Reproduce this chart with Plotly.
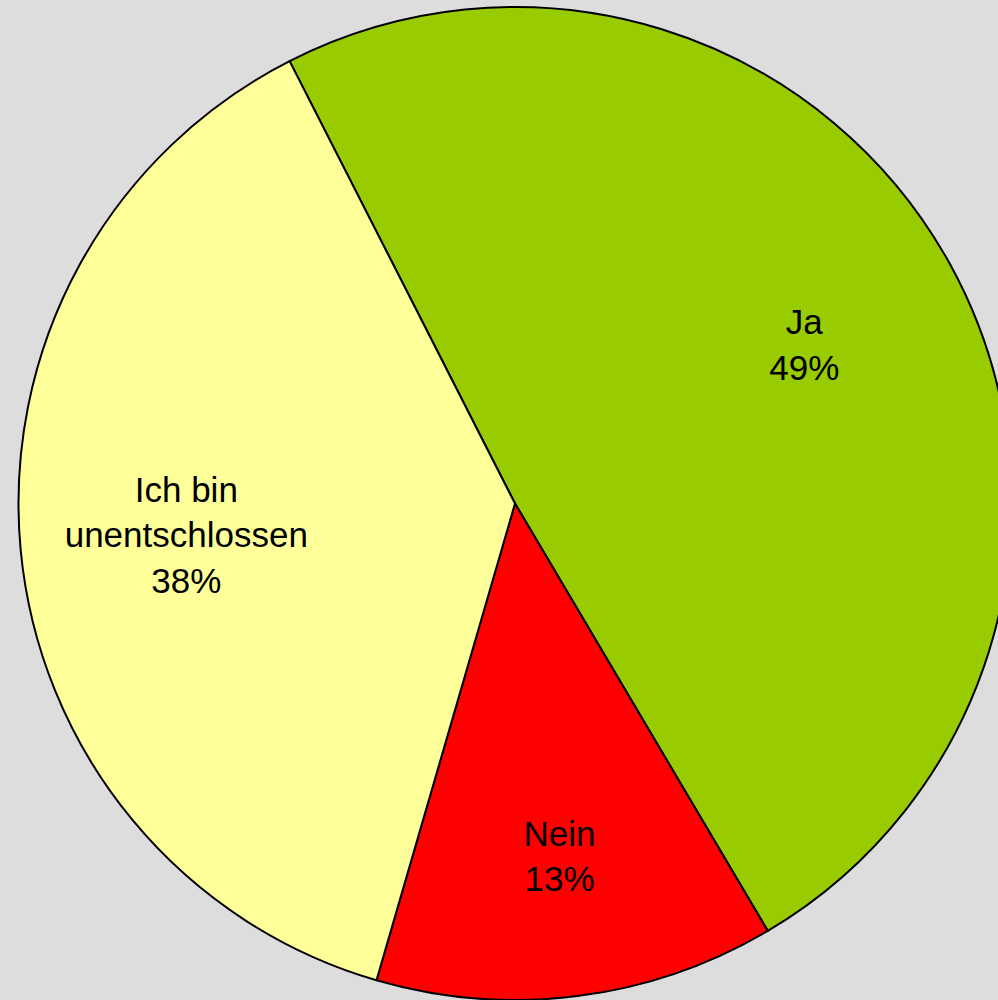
import plotly.graph_objects as go

labels = ["Ja", "Nein", "Ich bin<br>unentschlossen"]
values = [49, 13, 38]
colors = ["#99CC00", "#FF0000", "#FFFF99"]

pie_domain = dict(x=[0.01748, 0.98252], y=[0.0, 0.993])

fig = go.Figure()
fig.add_trace(go.Pie(
    labels=labels,
    values=values,
    sort=False,
    direction="clockwise",
    rotation=-27,
    marker=dict(colors=colors, line=dict(color="#000000", width=2)),
    textinfo="none",
    domain=pie_domain,
    showlegend=False,
    hoverinfo="skip",
))
fig.add_trace(go.Pie(
    labels=labels,
    values=values,
    sort=False,
    direction="clockwise",
    rotation=-27,
    hole=0.33,
    marker=dict(colors=["rgba(0,0,0,0)"] * 3, line=dict(width=0)),
    textinfo="label+percent",
    textposition="inside",
    insidetextorientation="horizontal",
    textfont=dict(family="Liberation Sans, Arial, sans-serif", size=35, color="#000000"),
    domain=pie_domain,
    showlegend=False,
    hoverinfo="skip",
))
fig.update_layout(
    width=1030, height=1000,
    margin=dict(l=0, r=0, t=0, b=0),
    paper_bgcolor="#DDDDDD",
    plot_bgcolor="#DDDDDD",
    showlegend=False,
)
fig.write_html(
    "out.html",
    config={"displayModeBar": False},
    post_script="document.body.style.margin='0';document.body.style.background='#DDDDDD';document.body.style.overflow='hidden';",
)
